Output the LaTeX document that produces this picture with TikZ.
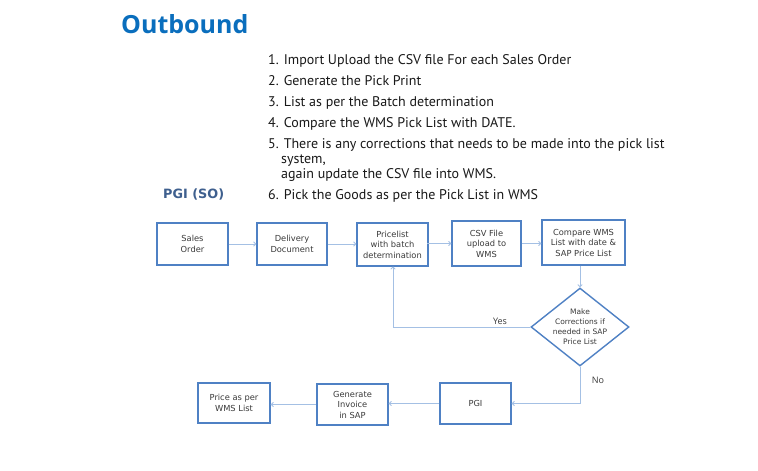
\documentclass[tikz,border=0pt]{standalone}
\usepackage{fontspec}
\setmainfont{Open Sans}
\newfontfamily\listfont{PT Sans}
\newfontfamily\boxfont{DejaVu Sans}
\usetikzlibrary{shapes.geometric,arrows.meta}
\definecolor{titleblue}{HTML}{0A6EBD}
\definecolor{boxblue}{HTML}{4F81C4}
\definecolor{lineblue}{HTML}{A4C0E4}
\definecolor{pgiblue}{HTML}{3E5F8E}
\definecolor{txtgrey}{HTML}{3A3A3A}
\tikzset{
  box/.style={draw=boxblue, line width=1.4pt, rectangle, inner sep=0pt, align=center,
    font=\boxfont\fontsize{8.3}{10.5}\selectfont, text=txtgrey},
  conn/.style={draw=lineblue, line width=0.9pt, -{To[length=3pt,width=5pt]}},
  lbl/.style={font=\fontsize{9}{11}\selectfont, text=txtgrey, inner sep=0pt},
  listtxt/.style={font=\listfont\fontsize{14}{15}\selectfont, text=black!90, anchor=base west, inner sep=0pt}
}
\begin{document}
\begin{tikzpicture}[x=1pt,y=-1pt]
\useasboundingbox[fill=white] (0,0) rectangle (758,471);
\node[font=\bfseries\fontsize{25}{28}\selectfont, text=titleblue, anchor=base west, inner sep=0pt] (title) at (121,34) {Outbound};
\node[listtxt] (l1) at (268,64) {1. Import Upload the CSV file For each Sales Order};
\node[listtxt] (l2) at (268,85) {2. Generate the Pick Print};
\node[listtxt] (l3) at (268,106) {3. List as per the Batch determination};
\node[listtxt] (l4) at (268,127) {4. Compare the WMS Pick List with DATE.};
\node[listtxt] (l5) at (268,148) {5. There is any corrections that needs to be made into the pick list};
\node[listtxt] (l5b) at (281,163) {system,};
\node[listtxt] (l5c) at (281,178) {again update the CSV file into WMS.};
\node[listtxt] (l6) at (268,199) {6. Pick the Goods as per the Pick List in WMS};
\node[font=\boxfont\bfseries\fontsize{12.8}{14}\selectfont, text=pgiblue, anchor=base west, inner sep=0pt] (pgiso) at (163,198) {PGI (SO)};

\node[box, minimum width=71pt, minimum height=42pt] (so) at (192.5,244) {Sales\\Order};
\node[box, minimum width=70pt, minimum height=42pt] (dd) at (292,244) {Delivery\\Document};
\node[box, minimum width=71pt, minimum height=43pt] (pl) at (392.5,244.5) {Pricelist\\with batch\\determination};
\node[box, minimum width=69pt, minimum height=45pt] (csv) at (486.5,243.5) {CSV File\\upload to\\WMS};
\node[box, minimum width=83pt, minimum height=45pt] (cmp) at (583.5,242.5) {Compare WMS\\List with date \&\\SAP Price List};
\node[diamond, draw=boxblue, line width=1.4pt, minimum width=98pt, minimum height=78pt, inner sep=0pt] (dia) at (580,327) {};
\node[align=center, font=\boxfont\fontsize{7.5}{10}\selectfont, text=txtgrey, inner sep=0pt] (diatxt) at (dia.center) {Make\\Corrections if\\needed in SAP\\Price List};
\node[box, minimum width=71pt, minimum height=41pt] (pgi) at (475.5,403.5) {PGI};
\node[box, minimum width=71pt, minimum height=41pt] (inv) at (352.5,404.5) {Generate\\Invoice\\in SAP};
\node[box, minimum width=72pt, minimum height=40pt] (price) at (234,403) {Price as per\\WMS List};

\node[lbl] (yes) at (500,321) {Yes};
\node[lbl] (no) at (598,380) {No};

\draw[conn] (so.east) -- (dd.west);
\draw[conn] (dd.east) -- (dd.east -| pl.west);
\draw[conn] (pl.west |- csv.west) ++(71,0) -- (csv.west);
\draw[conn] (csv.east) -- (cmp.west |- csv.east);
\draw[conn] (cmp.south -| dia.north) -- (dia.north);
\draw[conn] (dia.west) -- (393,327) -- (393,266.5);
\draw[conn] (dia.south) |- (pgi.east);
\draw[conn] (pgi.west) -- (inv.east |- pgi.west);
\draw[conn] (inv.west) -- (price.east |- inv.west);
\end{tikzpicture}
\end{document}
